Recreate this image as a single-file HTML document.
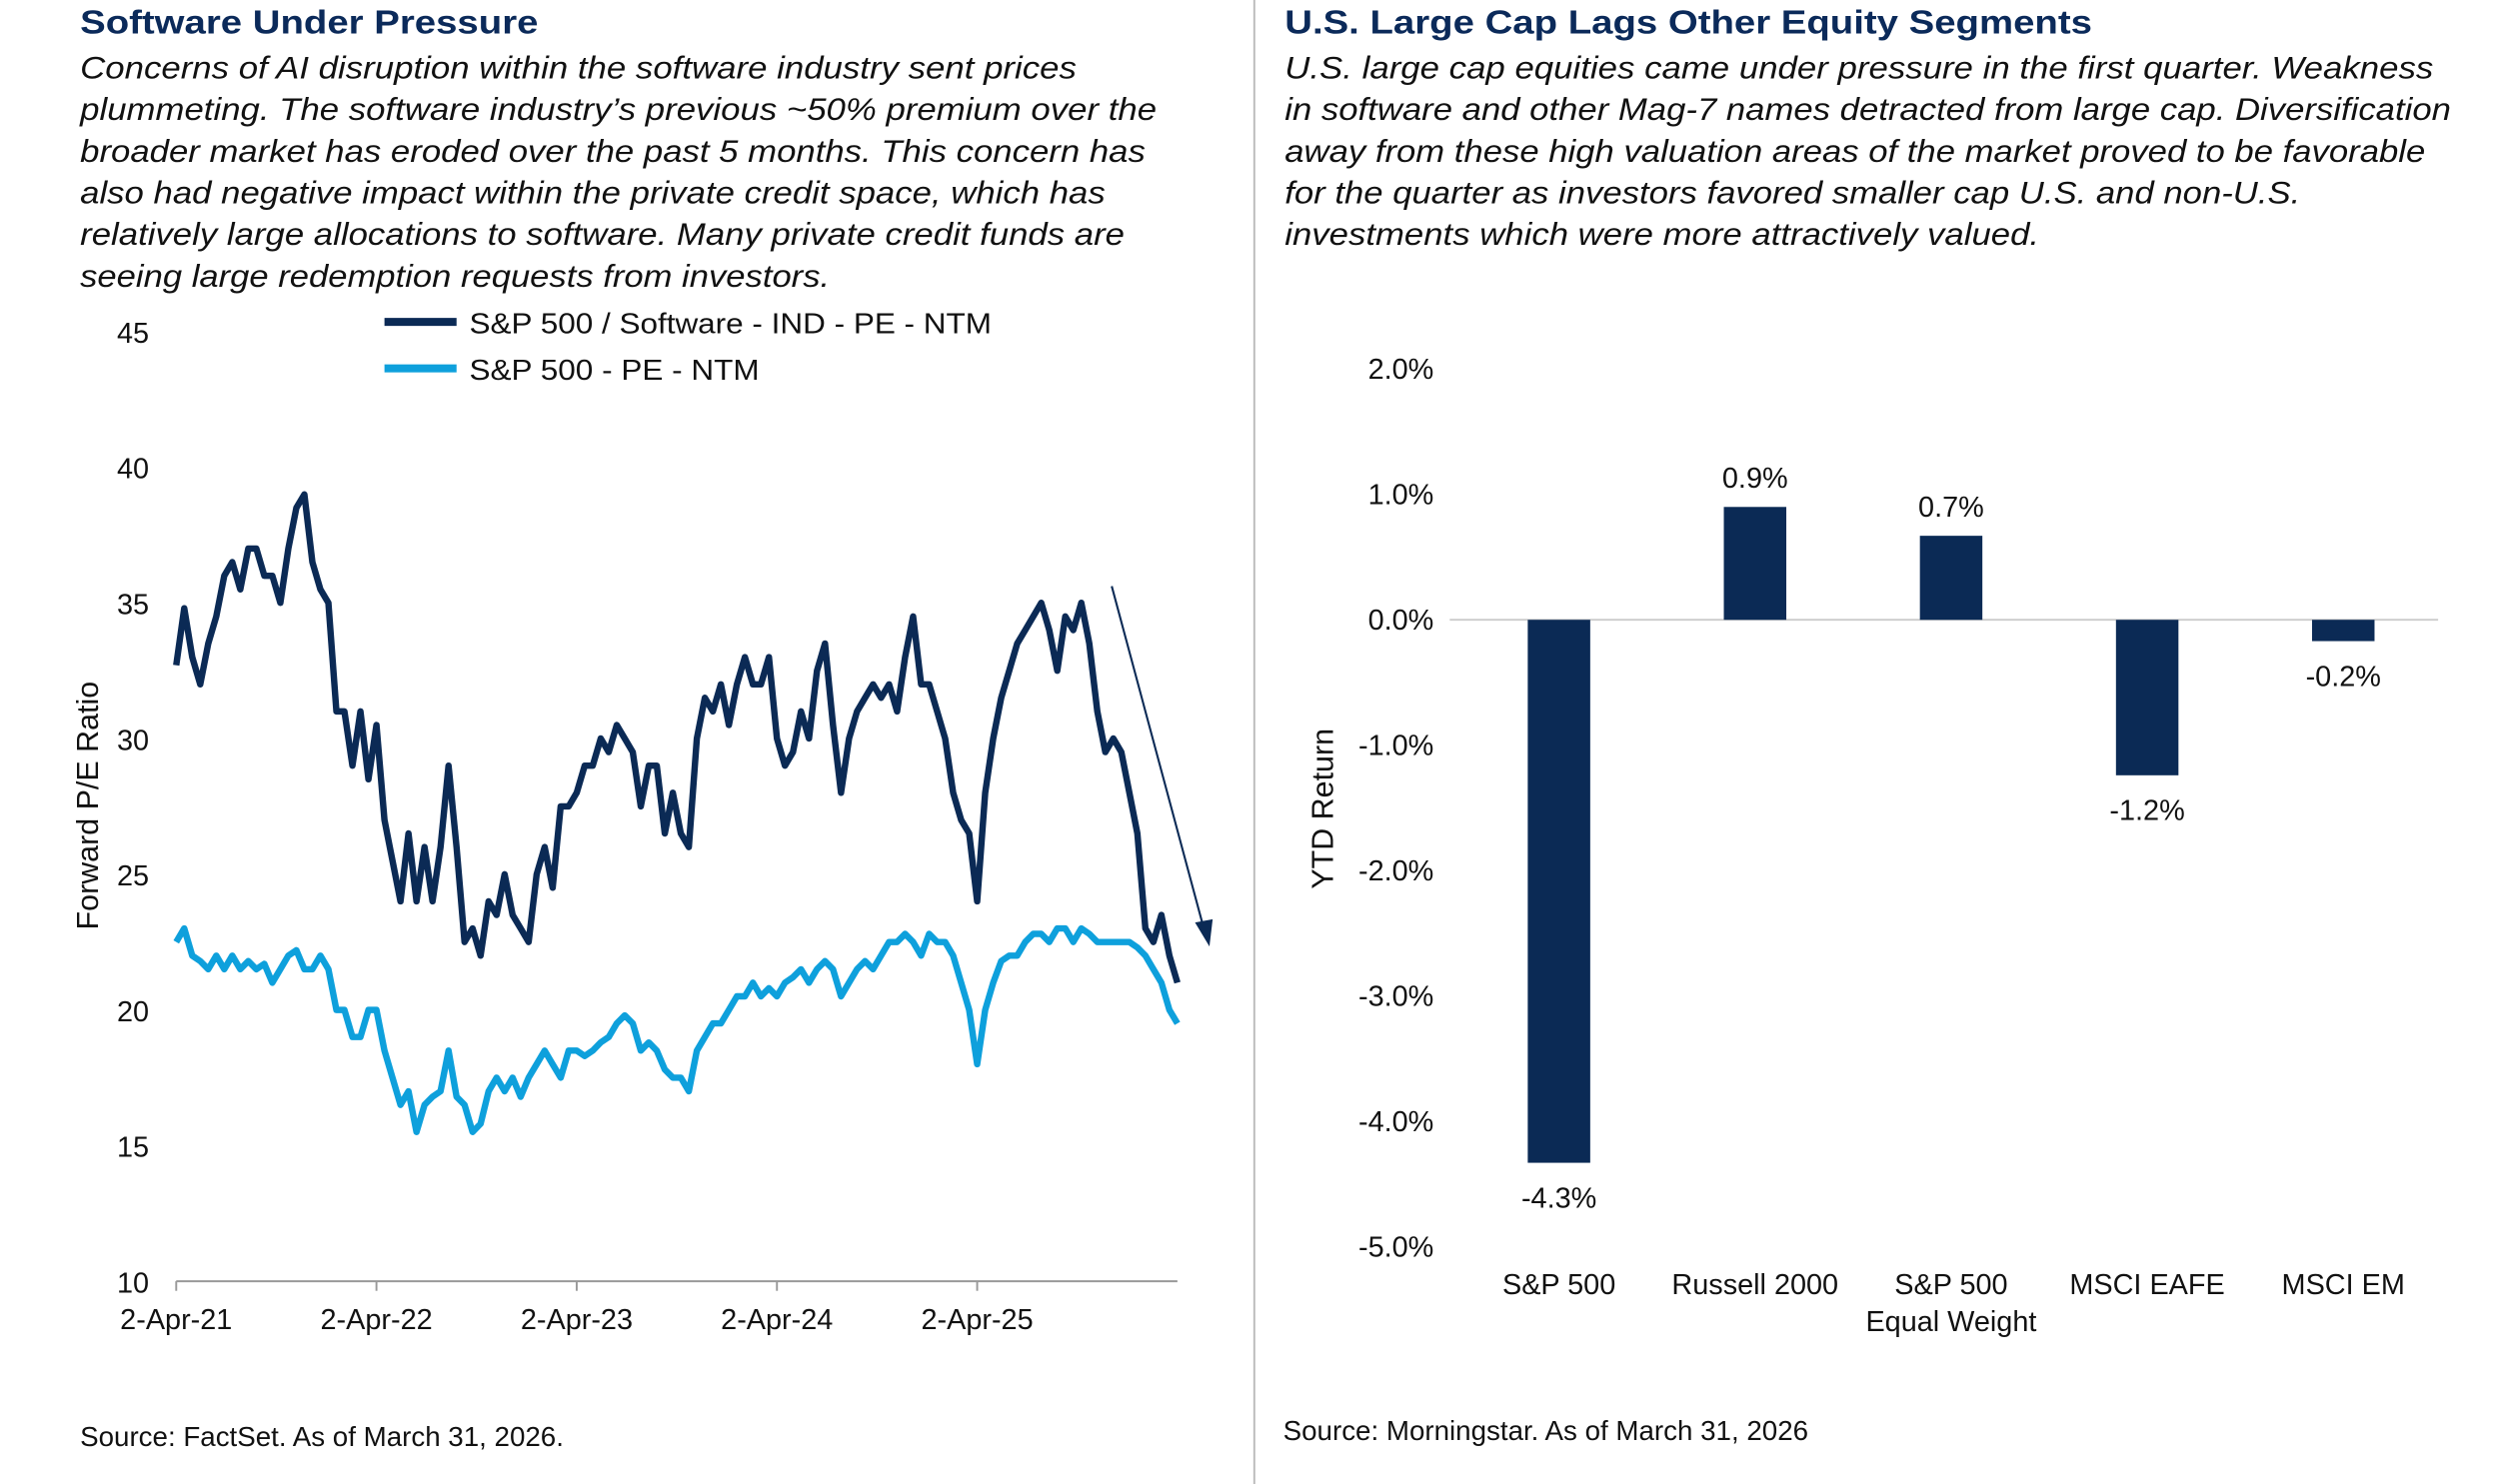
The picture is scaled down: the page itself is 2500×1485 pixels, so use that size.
<!DOCTYPE html>
<html><head><meta charset="utf-8"><style>
html,body{margin:0;padding:0;background:#fff;}
svg{display:block;font-family:"Liberation Sans",Arial,sans-serif;}
</style></head><body>
<svg id="root" width="2500" height="1485" viewBox="0 0 1560 926.6" preserveAspectRatio="none" xmlns="http://www.w3.org/2000/svg">
<g>
<text x="50" y="21" font-size="21" font-weight="bold" fill="#0b2a5a" textLength="286" lengthAdjust="spacingAndGlyphs">Software Under Pressure</text>
<g font-size="19.5" font-style="italic" fill="#111">
<text x="50" y="49" textLength="622" lengthAdjust="spacingAndGlyphs">Concerns of AI disruption within the software industry sent prices</text>
<text x="50" y="75" textLength="672" lengthAdjust="spacingAndGlyphs">plummeting. The software industry’s previous ~50% premium over the</text>
<text x="50" y="101" textLength="665" lengthAdjust="spacingAndGlyphs">broader market has eroded over the past 5 months. This concern has</text>
<text x="50" y="127" textLength="640" lengthAdjust="spacingAndGlyphs">also had negative impact within the private credit space, which has</text>
<text x="50" y="153" textLength="652" lengthAdjust="spacingAndGlyphs">relatively large allocations to software. Many private credit funds are</text>
<text x="50" y="179" textLength="468" lengthAdjust="spacingAndGlyphs">seeing large redemption requests from investors.</text>
</g>
<g>
<line x1="240" y1="201" x2="285" y2="201" stroke="#0b2a55" stroke-width="5"/>
<text x="293" y="208" font-size="18" fill="#111" textLength="326" lengthAdjust="spacingAndGlyphs">S&amp;P 500 / Software - IND - PE - NTM</text>
<line x1="240" y1="230" x2="285" y2="230" stroke="#0ea0dc" stroke-width="5"/>
<text x="293" y="237" font-size="18" fill="#111" textLength="181" lengthAdjust="spacingAndGlyphs">S&amp;P 500 - PE - NTM</text>
</g>
<text transform="translate(61,503) rotate(-90)" text-anchor="middle" font-size="19" fill="#111">Forward P/E Ratio</text>
<g id="leftYTicks"></g>
<g id="leftXTicks"></g>
<g id="leftSeries"></g>
<g>
<line x1="694" y1="366" x2="751" y2="578" stroke="#0b2a55" stroke-width="1.3"/>
<polygon points="755,591 746,576 757,574" fill="#0b2a55"/>
</g>
<text x="50" y="903" font-size="17.3" fill="#111">Source: FactSet. As of March 31, 2026.</text>
</g>
<line x1="783" y1="0" x2="783" y2="927" stroke="#bbb" stroke-width="1.2"/>
<g>
<text x="802" y="21" font-size="21" font-weight="bold" fill="#0b2a5a" textLength="504" lengthAdjust="spacingAndGlyphs">U.S. Large Cap Lags Other Equity Segments</text>
<g font-size="19.5" font-style="italic" fill="#111">
<text x="802" y="49" textLength="717" lengthAdjust="spacingAndGlyphs">U.S. large cap equities came under pressure in the first quarter. Weakness</text>
<text x="802" y="75" textLength="728" lengthAdjust="spacingAndGlyphs">in software and other Mag-7 names detracted from large cap. Diversification</text>
<text x="802" y="101" textLength="712" lengthAdjust="spacingAndGlyphs">away from these high valuation areas of the market proved to be favorable</text>
<text x="802" y="127" textLength="634" lengthAdjust="spacingAndGlyphs">for the quarter as investors favored smaller cap U.S. and non-U.S.</text>
<text x="802" y="153" textLength="471" lengthAdjust="spacingAndGlyphs">investments which were more attractively valued.</text>
</g>
<text transform="translate(832,505) rotate(-90)" text-anchor="middle" font-size="19" fill="#111">YTD Return</text>
<g id="rightY"></g>
<g id="bars"></g>
<text x="801" y="899" font-size="17.3" fill="#111">Source: Morningstar. As of March 31, 2026</text>
</g>
</svg>
<script>
const NS="http://www.w3.org/2000/svg";
function mk(tag,attrs,parent,txt){const e=document.createElementNS(NS,tag);for(const k in attrs)e.setAttribute(k,attrs[k]);if(txt!==undefined)e.textContent=txt;parent.appendChild(e);return e;}

// ---- Left chart data ----
const peTicks=[10,15,20,25,30,35,40,45];
const xTickLabels=["2-Apr-21","2-Apr-22","2-Apr-23","2-Apr-24","2-Apr-25"];
const xTickYears=[0,1,2,3,4];
const softwarePE=[32.7,34.8,33,32,33.5,34.5,36,36.5,35.5,37,37,36,36,35,37,38.5,39,36.5,35.5,35,31,31,29,31,28.5,30.5,27,25.5,24,26.5,24,26,24,26,29,26,22.5,23,22,24,23.5,25,23.5,23,22.5,25,26,24.5,27.5,27.5,28,29,29,30,29.5,30.5,30,29.5,27.5,29,29,26.5,28,26.5,26,30,31.5,31,32,30.5,32,33,32,32,33,30,29,29.5,31,30,32.5,33.5,30.5,28,30,31,31.5,32,31.5,32,31,33,34.5,32,32,31,30,28,27,26.5,24,28,30,31.5,32.5,33.5,34,34.5,35,34,32.5,34.5,34,35,33.5,31,29.5,30,29.5,28,26.5,23,22.5,23.5,22,21];
const sp500PE=[22.5,23,22,21.8,21.5,22,21.5,22,21.5,21.8,21.5,21.7,21,21.5,22,22.2,21.5,21.5,22,21.5,20,20,19,19,20,20,18.5,17.5,16.5,17,15.5,16.5,16.8,17,18.5,16.8,16.5,15.5,15.8,17,17.5,17,17.5,16.8,17.5,18,18.5,18,17.5,18.5,18.5,18.3,18.5,18.8,19,19.5,19.8,19.5,18.5,18.8,18.5,17.8,17.5,17.5,17,18.5,19,19.5,19.5,20,20.5,20.5,21,20.5,20.8,20.5,21,21.2,21.5,21,21.5,21.8,21.5,20.5,21,21.5,21.8,21.5,22,22.5,22.5,22.8,22.5,22,22.8,22.5,22.5,22,21,20,18,20,21,21.8,22,22,22.5,22.8,22.8,22.5,23,23,22.5,23,22.8,22.5,22.5,22.5,22.5,22.5,22.3,22,21.5,21,20,19.5];
const totalYears=5.0;

const yL=v=>800-(v-10)*(593/35);
const xL=t=>110+t*(625/totalYears);

const yt=document.getElementById('leftYTicks');
peTicks.forEach(v=>{
 const t=mk('text',{x:93,y:yL(v)+7,'text-anchor':'end','font-size':18,fill:'#111'},yt,String(v));
 
 
});
const xt=document.getElementById('leftXTicks');
const ax=mk('line',{x1:110,y1:800,x2:735,y2:800,stroke:'#999','stroke-width':1.2},xt);


xTickYears.forEach((yr,i)=>{
 const x=xL(yr);
 mk('line',{x1:x,y1:800,x2:x,y2:806,stroke:'#999','stroke-width':1.2},xt);
 const t=mk('text',{x:x,y:830,'text-anchor':'middle','font-size':18,fill:'#111'},xt,xTickLabels[i]);
 
 
});
const ls=document.getElementById('leftSeries');
function series(vals,color,name){
 const n=vals.length;
 const pts=vals.map((v,i)=>xL(i*totalYears/(n-1)).toFixed(1)+','+yL(v).toFixed(1)).join(' ');
 const p=mk('polyline',{points:pts,fill:'none',stroke:color,'stroke-width':4,'stroke-linejoin':'round'},ls);
 
 
}
series(sp500PE,'#0ea0dc','sp500-pe-line');
series(softwarePE,'#0b2a55','software-pe-line');

// ---- Right chart data ----
const barCategories=["S&P 500","Russell 2000","S&P 500\nEqual Weight","MSCI EAFE","MSCI EM"];
const barValues=[-4.33,0.9,0.67,-1.24,-0.17];
const barLabels=["-4.3%","0.9%","0.7%","-1.2%","-0.2%"];
const retTicks=[2,1,0,-1,-2,-3,-4,-5];

const yR=v=>387-v*78.3;
const ry=document.getElementById('rightY');
retTicks.forEach(v=>{
 const t=mk('text',{x:895,y:yR(v)+6,'text-anchor':'end','font-size':18,fill:'#111'},ry,v.toFixed(1)+'%');
 
 
});
const zl=mk('line',{x1:905,y1:yR(0),x2:1522,y2:yR(0),stroke:'#ccc','stroke-width':1.2},ry);


const bg=document.getElementById('bars');
const x0=912, band=122.4, bw=39;
barValues.forEach((v,i)=>{
 const cx=x0+band*(i+0.5);
 const top=Math.min(yR(v),yR(0)), h=Math.abs(yR(v)-yR(0));
 const r=mk('rect',{x:cx-bw/2,y:top,width:bw,height:h,fill:'#0b2a55'},bg);
 
 
 const ly=v>=0?yR(v)-12:yR(v)+28;
 const l=mk('text',{x:cx,y:ly,'text-anchor':'middle','font-size':18,fill:'#111'},bg,barLabels[i]);
 
 
 barCategories[i].split('\n').forEach((line,j)=>{
  const c=mk('text',{x:cx,y:808+j*23,'text-anchor':'middle','font-size':18,fill:'#111'},bg,line);
  
  
 });
});
</script>
</body></html>
